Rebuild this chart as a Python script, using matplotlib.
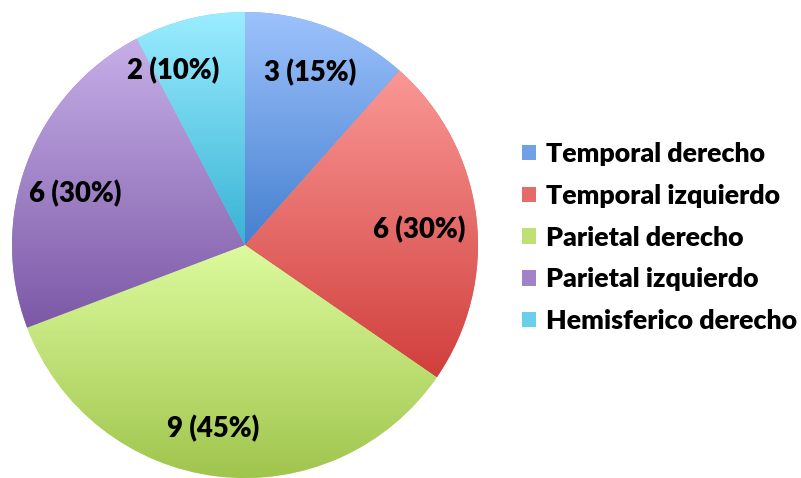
import numpy as np
import matplotlib
matplotlib.use("Agg")
import matplotlib.pyplot as plt
from matplotlib.colors import LinearSegmentedColormap

plt.rcParams['font.family'] = ['Lato', 'DejaVu Sans']

categories = ["Temporal derecho", "Temporal izquierdo", "Parietal derecho",
              "Parietal izquierdo", "Hemisferico derecho"]
values = [3, 6, 9, 6, 2]
percents = [15, 30, 45, 30, 10]
# light (top) / dark (bottom) colour of each slice gradient
tops = ["#9DC2FC", "#FA9896", "#DCFB9E", "#C6AFE8", "#9BEDFF"]
bottoms = ["#4580CF", "#D03F3C", "#A0C54D", "#7C58A6", "#38B3D4"]

fig = plt.figure(figsize=(8.01, 4.78), dpi=100)
ax = fig.add_axes([12 / 801, 0, 466 / 801, 466 / 478])

wedges, _ = ax.pie(values, startangle=90, counterclock=False, radius=1,
                   colors=bottoms, wedgeprops=dict(linewidth=0))

grad = np.linspace(0, 1, 256).reshape(-1, 1)
for w, top, bot in zip(wedges, tops, bottoms):
    ext = w.get_path().get_extents()
    y0 = max(ext.y0, -1)
    y1 = min(ext.y1, 1)
    cmap = LinearSegmentedColormap.from_list("g", [top, bot])
    im = ax.imshow(grad, cmap=cmap, aspect='auto', origin='upper',
                   extent=[ext.x0, ext.x1, y0, y1], zorder=2)
    im.set_clip_path(w)
    w.set_facecolor(cmap(0.5))
ax.set_xlim(-1, 1)
ax.set_ylim(-1, 1)
ax.set_aspect('equal')
ax.axis('off')

# labels placed near each slice's mid-angle (Excel "best fit" nudges)
label_r = [0.79, 0.75, 0.80, 0.76, 0.81]
label_shift = [0, -2, -3, 4, 8.5]
for w, v, p, r, s in zip(wedges, values, percents, label_r, label_shift):
    ang = np.deg2rad((w.theta1 + w.theta2) / 2 + s)
    ax.text(r * np.cos(ang), r * np.sin(ang), f"{v} ({p}%)", ha='center',
            va='center', fontsize=19.8, fontweight='heavy', color='black', zorder=5)

leg = fig.legend(wedges, categories, loc='center left',
                 bbox_to_anchor=(522 / 801, 0.503), frameon=False,
                 prop=dict(weight='heavy', size=19.3),
                 handlelength=0.52, handleheight=0.52, handletextpad=0.38,
                 labelspacing=0.66, borderpad=0, borderaxespad=0)

fig.savefig("out.png", dpi=100)
